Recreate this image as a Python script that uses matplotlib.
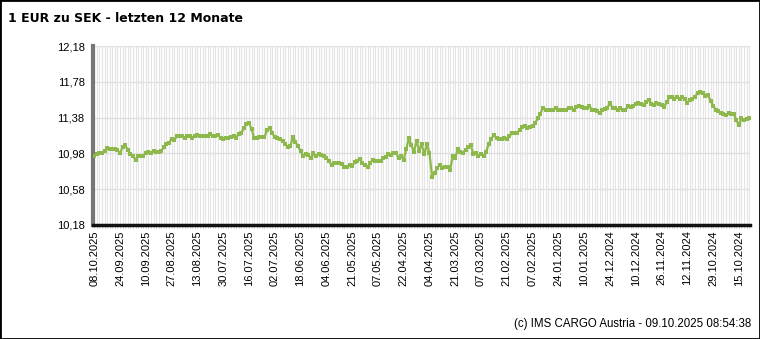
import matplotlib
matplotlib.use("Agg")
import matplotlib.pyplot as plt
from matplotlib.patches import Rectangle
import numpy as np

title = "1 EUR zu SEK - letzten 12 Monate"
footer = "(c) IMS CARGO Austria - 09.10.2025 08:54:38"

tick_labels = ["08.10.2025", "24.09.2025", "10.09.2025", "27.08.2025", "13.08.2025",
               "30.07.2025", "16.07.2025", "02.07.2025", "18.06.2025", "04.06.2025",
               "21.05.2025", "07.05.2025", "22.04.2025", "04.04.2025", "21.03.2025",
               "07.03.2025", "21.02.2025", "07.02.2025", "24.01.2025", "10.01.2025",
               "24.12.2024", "10.12.2024", "26.11.2024", "12.11.2024", "29.10.2024",
               "15.10.2024"]

y_ticks = [10.18, 10.58, 10.98, 11.38, 11.78, 12.18]

# daily EUR/SEK rates, newest (left) to oldest (right)
rates = [
    10.95, 10.97, 10.99, 10.99, 11.01, 11.04, 11.03, 11.03, 11.03, 11.02,
    10.98, 11.05, 11.07, 11.02, 10.97, 10.95, 10.91, 10.95, 10.95, 10.95,
    10.99, 11.00, 10.99, 11.01, 11.00, 11.00, 11.01, 11.05, 11.08, 11.10,
    11.14, 11.13, 11.17, 11.17, 11.17, 11.15, 11.17, 11.17, 11.15, 11.18,
    11.19,
    11.18, 11.18, 11.17, 11.18, 11.20, 11.17, 11.17, 11.19, 11.15, 11.14,
    11.15, 11.15, 11.16, 11.17, 11.15, 11.20, 11.21, 11.26, 11.31, 11.32,
    11.25, 11.15, 11.15, 11.16, 11.16, 11.16, 11.24, 11.26, 11.21, 11.16,
    11.15, 11.14, 11.12, 11.09, 11.05, 11.06, 11.16, 11.11, 11.06, 11.01,
    10.95, 10.97,
    10.96, 10.93, 10.98, 10.95, 10.97, 10.96, 10.95, 10.93, 10.90, 10.85,
    10.87, 10.87, 10.87, 10.86, 10.83, 10.83, 10.85, 10.84, 10.88, 10.89,
    10.92, 10.87, 10.85, 10.83, 10.87, 10.91, 10.90, 10.90, 10.89, 10.93,
    10.94, 10.97, 10.96, 10.99, 10.99, 10.93, 10.95, 10.91, 11.03,
    11.15, 11.07, 11.00, 11.12, 11.01, 11.08, 10.97, 11.08, 10.98, 10.72,
    10.76, 10.82, 10.85, 10.82, 10.83, 10.83, 10.79, 10.95, 10.93, 11.03,
    11.00, 10.99, 11.02, 11.05, 11.07, 10.97, 10.98, 10.95, 10.97, 10.95,
    11.00, 11.09, 11.14, 11.19, 11.15, 11.14, 11.14, 11.15, 11.14, 11.17,
    11.21, 11.21, 11.21, 11.24, 11.27, 11.29, 11.26, 11.28, 11.29, 11.32,
    11.37, 11.42,
    11.49, 11.47, 11.47, 11.46, 11.47, 11.49, 11.46, 11.47, 11.47, 11.47,
    11.49, 11.49, 11.47, 11.50, 11.51, 11.50, 11.49, 11.49, 11.51, 11.47,
    11.47, 11.45, 11.43, 11.46, 11.48, 11.49, 11.54, 11.49, 11.49, 11.46,
    11.49, 11.47, 11.46, 11.51,
    11.50, 11.51, 11.53, 11.54, 11.53, 11.52, 11.55, 11.58, 11.53, 11.52,
    11.54, 11.53, 11.52, 11.50, 11.55, 11.61, 11.61, 11.59, 11.61, 11.59,
    11.61, 11.59, 11.54, 11.58, 11.59, 11.61, 11.66, 11.67, 11.66, 11.62,
    11.63, 11.57, 11.51, 11.47, 11.45, 11.43, 11.42, 11.41, 11.43, 11.42,
    11.42, 11.35, 11.30, 11.37, 11.35, 11.36, 11.37,
]

W, H = 760, 339
fig = plt.figure(figsize=(W / 100, H / 100), dpi=100)
fig.patch.set_facecolor("white")

L, R, T, B = 93, 750, 46, 225
ax = fig.add_axes([L / W, 1 - B / H, (R - L) / W, (B - T) / H])

n = len(rates)
x = np.arange(n)
ax.plot(x, rates, color="#8cb84c", lw=1.6, marker="s", ms=2.5,
        markeredgewidth=0, zorder=3)

ax.set_xlim(-0.5, n - 0.7)
ax.set_ylim(y_ticks[0], y_ticks[-1])

# grid
ax.set_xticks(x, minor=True)
ax.set_xticks(np.arange(0, len(tick_labels) * 10, 10))
ax.set_xticklabels(tick_labels, rotation=90, fontsize=8, family="Liberation Sans")
ax.set_yticks(y_ticks)
ax.set_yticklabels([f"{v:.2f}".replace(".", ",") for v in y_ticks],
                   fontsize=8, family="Liberation Sans")
ax.grid(which="both", axis="x", color="#e4e4e4", lw=0.8, zorder=0)
ax.grid(which="major", axis="y", color="#e0e0e0", lw=1.0, zorder=0)
ax.set_axisbelow(True)

ax.tick_params(axis="x", which="minor", length=2, color="#aaaaaa", width=0.5)
ax.tick_params(axis="x", which="major", length=2, color="#aaaaaa", width=0.5, pad=2)
ax.tick_params(axis="y", length=0, pad=6)

for s in ("top", "right"):
    ax.spines[s].set_visible(False)
ax.spines["left"].set_color("#777777")
ax.spines["left"].set_linewidth(3)
ax.spines["bottom"].set_color("#111111")
ax.spines["bottom"].set_linewidth(2.5)

fig.text(8 / W, 1 - 18 / H, title, fontsize=9.0, fontweight="bold",
         family="DejaVu Sans", va="center", ha="left")
fig.text(751 / W, 1 - 324 / H, footer, fontsize=8.3, family="Liberation Sans",
         va="center", ha="right")

fig.patches.append(Rectangle((0, 0), 1, 1, transform=fig.transFigure,
                             fill=False, edgecolor="black", lw=2))

fig.savefig("out.png", dpi=100, facecolor="white")
